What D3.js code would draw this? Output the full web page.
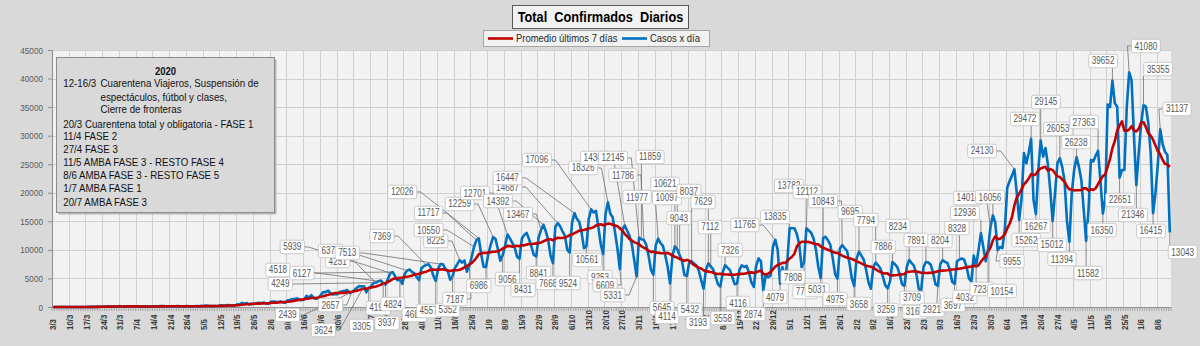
<!DOCTYPE html>
<html><head><meta charset="utf-8">
<script src="https://cdn.jsdelivr.net/npm/d3@7"></script>
<style>
html,body{margin:0;padding:0;background:#d9d9d9;}
svg{display:block;}
</style></head><body>
<svg id="chart" width="1200" height="346"></svg>
<script>
// ---------- DATA ----------
const firstDay = "2020-03-03";
// daily confirmed cases, 3/3/2020 - 31/12/2020 (rows = weeks Tue..Mon)
const cases2020 = [
 1,0,0,0,6,1,2,
 5,2,2,3,11,11,9,
 14,18,29,30,27,67,36,
 86,87,101,55,95,75,101,
 146,88,132,93,98,61,133,
 100,115,87,60,81,86,83,
 143,104,124,153,162,114,102,
 136,144,113,173,111,124,111,
 158,120,104,143,165,112,200,
 170,240,163,145,168,173,128,
 316,261,286,345,258,307,244,
 474,439,718,535,704,436,552,
 535,654,755,648,795,616,564,
 904,949,929,840,983,826,756,
 1141,1226,1386,1391,1531,1282,1208,
 1374,1958,1634,2060,1581,1419,1593,
 2146,2635,2606,2886,2401,2189,2262,
 2262,2667,2744,2845,2979,2439,2657,
 2979,3376,3663,3576,3624,2590,3305,
 3645,4249,4251,4518,4638,4190,3937,
 4890,5939,6127,5344,4687,4824,4033,
 5782,6377,6571,6134,5929,5241,4686,
 6792,7147,7369,7482,6879,5465,4557,
 6663,7513,7498,6693,6365,4783,5352,
 6840,7498,8225,7767,8159,6186,7187,
 8713,10550,11717,12026,9230,7058,6986,
 9309,10933,12259,11905,10104,8100,9056,
 10776,12701,12027,11245,10465,8789,8431,
 11945,12625,12969,11905,10591,9108,8841,
 12160,13467,14392,13300,11807,9000,7668,
 14001,14687,14128,13254,12500,10000,9524,
 14740,16447,15454,14901,12982,10300,10561,
 15454,17096,16546,16841,14000,11000,9253,
 16240,18326,16325,15718,13000,10200,6609,
 13500,14308,13400,12500,11000,8200,5331,
 12145,11859,11786,10895,9000,6500,5645,
 10800,11977,11200,10700,9000,7000,4114,
 9000,10621,10097,9043,8000,5600,5432,
 7800,8037,7600,7300,6400,4700,3193,
 6500,7629,7112,6600,5400,4000,3558,
 6000,7326,6900,6500,5300,4000,4116,
 6500,7300,7000,7200,6000,4300,3500,
 7200,8500,8000,2874,5600,5200,5500,
 10500,11765,10000
];
// daily confirmed cases, 1/1/2021 - 13/6/2021
const cases2021 = [
 4079,7000,5000,7808,
 13835,13790,13800,12800,11000,7000,7774,
 13782,13400,13000,12000,10000,7000,5031,
 12112,12300,11700,10900,8600,5800,4975,
 10200,10843,10300,9800,7800,5000,3658,
 8500,9695,9000,8300,6500,4300,3200,
 7000,7794,7300,6700,5300,3800,3259,
 4500,7886,7500,7000,5800,4000,3709,
 7000,8234,7700,7200,5800,3168,2921,
 7000,7891,7800,7400,6000,4000,3697,
 7500,8204,7900,7700,6500,4400,4032,
 8000,8328,8500,8300,7000,5000,4500,
 9000,7234,10000,12936,10500,8000,10154,
 14014,16056,14800,9955,10500,10300,13600,
 20870,22039,23000,24130,20000,15262,19000,
 26960,25157,27001,29472,18740,16267,24000,
 29145,26320,27840,25000,20500,15012,20000,
 25200,26053,24500,22000,15000,11394,20000,
 24000,26238,24500,22240,17000,11582,17000,
 25740,25500,26500,27363,22000,16350,19000,
 35468,35000,39652,35670,35080,22651,24000,
 24000,35000,41080,39740,30000,21346,27000,
 32000,35355,35080,32220,27000,16415,20000,
 25000,31137,28500,27190,26620,13043
];
const yTicks = [0,5000,10000,15000,20000,25000,30000,35000,40000,45000];
const seriesNames = ["Promedio últimos 7 días","Casos x día"];
const chartTitle = "Total  Confirmados  Diarios";
const noteTitle = "2020";
const noteLines = [
 ["12-16/3","Cuarentena Viajeros, Suspensión de"],
 ["","espectáculos, fútbol y clases,"],
 ["","Cierre de fronteras"],
 ["20/3 Cuarentena total y obligatoria - FASE 1",""],
 ["11/4 FASE 2",""],
 ["27/4 FASE 3",""],
 ["11/5 AMBA FASE 3 - RESTO FASE 4",""],
 ["8/6 AMBA FASE 3 - RESTO FASE 5",""],
 ["1/7 AMBA FASE 1",""],
 ["20/7 AMBA FASE 3",""]
];
// data labels: [day index of labelled point, label centre (day), label centre (value)]
const callouts = [
 [136,94,6480],[134,95,4030],[141,100,10510],[142,104,5950],[148,116,9810],[135,119,8050],[162,123,9460],
 [125,116,350],[124,98,-1400],[130,113,-4030],[132,129,-3330],[138,136,-175],[139,139.6,-2800],[145,142,525],
 [156,137.5,12430],[178,146,20140],[177,157,16460],[176,157,13480],[170,160,11560],[153,151,-1400],[160,157,-700],
 [167,165,-525],[174,168,1400],[181,178,3680],[184,170,18040],[190,176.4,19960],[188,190,4900],[195,196.5,2980],
 [205,186,18560],[211,190,21010],[218,190,22590],[204,194.4,16280],[202,203,5950],[209,207,4200],[216,215.3,4200],
 [225,202.3,25740],[232,221.6,24340],[223,223.3,8230],[230,228.7,5250],[237,230.8,3850],[244,234.1,2100],
 [239,226.6,26090],[245,234.1,26090],[246,249.6,26265],[247,238.3,23110],[253,244.2,19260],[260,255.9,21540],
 [261,256.7,19090],[267,265.9,20310],[262,261.7,15580],[274,271.8,18390],[275,274.7,14010],[281,283.1,9980],
 [251,254.6,-175],[258,256.7,-1750],[265,266.3,-525],[272,269.7,-2800],[279,280.1,-1930],[286,286.4,700],
 [297,292.7,-1230],[304,301.9,1750],[307,309.4,5250],[302,289.3,14360],[308,301.9,15760],[315,307.7,21190],
 [322,315.3,20140],[330,322,18560],[337,333.3,16635],[344,339.9,15230],[351,347.1,10510],[358,353.3,14180],
 [365,360.9,11730],[372,370.9,11560],[379,378,13830],[388,381.3,16460],[392,382.6,19090],[393,391.8,19260],
 [402,388.5,27320],[314,314.4,2630],[321,319.5,2980],[328,327,1400],[335,337,525],[349,348.3,-525],
 [356,359.2,1576],[362,360.4,-875],[363,367.5,-525],[370,376.3,350],[377,381.3,1750],[386,388.5,3150],
 [391,396.8,2800],[395,401,8050],[404,406.9,11730],[411,411,14180],[418,417.7,10860],[425,421.9,8400],
 [432,432.8,5950],[439,438.6,13480],[446,446.2,18740],[453,451.6,16110],[460,459.1,13310],[467,472.4,9630],
 [409,406.4,32920],[413,415.2,35900],[421,420.2,31170],[437,431.1,32390],[428,427.8,28890],[443,439.1,43075],
 [450,457,45700],[456,462.1,41670],[463,470,34670]
];

// ---------- BUILD ----------
const cases = cases2020.concat(cases2021);
const N = cases.length;
const parse = d3.timeParse("%Y-%m-%d");
const day0 = parse(firstDay);
const dates = d3.range(N).map(i => d3.timeDay.offset(day0, i));
const avg7 = cases.map((v, i) => d3.mean(cases.slice(Math.max(0, i - 6), i + 1)));

const P = {l:52, r:1171, t:50, b:307};
const x = d3.scaleLinear().domain([-0.5, N - 0.5]).range([P.l, P.r]);
const y = d3.scaleLinear().domain([0, 45000]).range([P.b, P.t]);
const fmt = d3.timeFormat("%-d/%-m");
const FONT = "'Liberation Sans',Arial,sans-serif";

// narrow the glyphs horizontally (Calibri-like proportions)
function condense(sel, f) {
  sel.each(function(){
    const w = this.getComputedTextLength();
    if (w > 0) d3.select(this).attr("textLength", (w*f).toFixed(2)).attr("lengthAdjust","spacingAndGlyphs");
  });
  return sel;
}

const svg = d3.select("#chart");
svg.append("rect").attr("width",1200).attr("height",346).attr("fill","#d9d9d9");
svg.append("rect").attr("x",P.l).attr("y",P.t).attr("width",P.r-P.l).attr("height",P.b-P.t).attr("fill","#f2f2f2");

// gridlines
const weekIdx = d3.range(0, N, 7);
svg.append("g").selectAll("line").data(yTicks.slice(1)).join("line")
  .attr("x1",P.l).attr("x2",P.r).attr("y1",d=>Math.round(y(d))+0.5).attr("y2",d=>Math.round(y(d))+0.5)
  .attr("stroke","#cfcfcf").attr("stroke-width",1);
svg.append("g").selectAll("line").data(weekIdx.slice(1)).join("line")
  .attr("x1",d=>Math.round(x(d-0.5))+0.5).attr("x2",d=>Math.round(x(d-0.5))+0.5).attr("y1",P.t).attr("y2",P.b)
  .attr("stroke","#cfcfcf").attr("stroke-width",1);

// y axis
const yAxis = d3.axisLeft(y).tickValues(yTicks).tickSize(4).tickPadding(5).tickFormat(d3.format("d"));
const gy = svg.append("g").attr("transform",`translate(${P.l},0)`).call(yAxis);
gy.select(".domain").attr("stroke","#8c8c8c");
gy.selectAll(".tick line").attr("stroke","#8c8c8c");
condense(gy.selectAll(".tick text").attr("fill","#595959").style("font-family",FONT).style("font-size","9.5px"), 0.86);

// x axis: a tick between every day, label every 7 days
const gx = svg.append("g");
gx.append("line").attr("x1",P.l).attr("x2",P.r).attr("y1",P.b+0.5).attr("y2",P.b+0.5).attr("stroke","#8c8c8c");
gx.selectAll("line.t").data(d3.range(N+1)).join("line").attr("class","t")
  .attr("x1",d=>x(d-0.5)).attr("x2",d=>x(d-0.5)).attr("y1",P.b).attr("y2",P.b+4)
  .attr("stroke","#9a9a9a").attr("stroke-width",0.8);
condense(gx.selectAll("text").data(weekIdx).join("text")
  .attr("transform",d=>`translate(${x(d)},330) rotate(-90)`)
  .attr("dy","0.35em").attr("text-anchor","start")
  .attr("fill","#3a3a3a").style("font-family",FONT).style("font-size","9px").style("font-weight","bold")
  .text(d=>fmt(dates[d])), 0.88);

// series
const line = d3.line().x((d,i)=>x(i)).y(d=>y(d));
svg.append("path").datum(cases).attr("d",line).attr("fill","none")
  .attr("stroke","#0070c0").attr("stroke-width",2.6).attr("stroke-linejoin","round");
svg.append("path").datum(avg7).attr("d",line).attr("fill","none")
  .attr("stroke","#c00000").attr("stroke-width",2.6).attr("stroke-linejoin","round");

// note box
const note = svg.append("g");
note.append("rect").attr("x",58.5).attr("y",59.5).attr("width",218).attr("height",155).attr("fill","#b8b8b8");
note.append("rect").attr("x",56.5).attr("y",57.5).attr("width",218).attr("height",155)
  .attr("fill","#d9d9d9").attr("stroke","#8c8c8c");
condense(note.append("text").attr("x",165.5).attr("y",70.7).attr("dy","0.35em").attr("text-anchor","middle")
  .style("font-family",FONT).style("font-size","11px").style("font-weight","bold").attr("fill","#111").text(noteTitle), 0.86);
const lineY = [82.7,96.5,108.5,124,135.7,149,162.3,175,188.3,201.7];
noteLines.forEach((l,k)=>{
  if(l[0]) condense(note.append("text").attr("x",63.3).attr("y",lineY[k]).attr("dy","0.35em")
    .style("font-family",FONT).style("font-size","11.5px").attr("fill","#111").text(l[0]), 0.845);
  if(l[1]) condense(note.append("text").attr("x",100.5).attr("y",lineY[k]).attr("dy","0.35em")
    .style("font-family",FONT).style("font-size","11.5px").attr("fill","#111").text(l[1]), 0.845);
});

// callouts (leader lines + boxes), drawn in series order
const cs = callouts.slice().sort((a,b)=>a[0]-b[0]);
const gl = svg.append("g");
const gb = svg.append("g");
cs.forEach(c=>{
  const [d, ld, lv] = c;
  const px = x(d), py = y(cases[d]);
  const bx = x(ld), by = y(lv);
  const t = gb.append("text").attr("x",bx).attr("y",by).attr("dy","0.35em").attr("text-anchor","middle")
    .style("font-family",FONT).style("font-size","10px").attr("fill","#595959").text(cases[d]);
  condense(t, 0.82);
  const tw = t.node().getComputedTextLength();
  const bw = tw + 6, bh = 13.5;
  gb.insert("rect", () => t.node()).attr("x",bx-bw/2).attr("y",by-bh/2).attr("width",bw).attr("height",bh)
    .attr("rx",2).attr("fill","#ffffff").attr("stroke","#bfbfbf").attr("stroke-width",0.8);
  const L = bx-bw/2, R = bx+bw/2, T = by-bh/2, B = by+bh/2;
  let p;
  if (px > R + 2) p = `M${R},${by}H${R+4}L${px},${py}`;
  else if (px < L - 2) p = `M${L},${by}H${L-4}L${px},${py}`;
  else if (py < T) p = `M${px},${T}L${px},${py}`;
  else p = `M${px},${B}L${px},${py}`;
  gl.append("path").attr("d",p).attr("fill","none").attr("stroke","#6e6e6e").attr("stroke-width",0.8);
});

// title
const tg = svg.append("g");
tg.append("rect").attr("x",512.5).attr("y",5.5).attr("width",176).attr("height",23)
  .attr("fill","#f2f2f2").attr("stroke","#595959");
condense(tg.append("text").attr("x",600.5).attr("y",17).attr("dy","0.35em").attr("text-anchor","middle")
  .style("font-family",FONT).style("font-size","15px").style("font-weight","bold").attr("fill","#000")
  .attr("xml:space","preserve").style("white-space","pre").text(chartTitle), 0.85);

// legend
const lg = svg.append("g");
lg.append("rect").attr("x",483.5).attr("y",30.5).attr("width",226).attr("height",16)
  .attr("fill","#f2f2f2").attr("stroke","#a6a6a6");
const legendItems = [{name:seriesNames[0], color:"#c00000", x:488},{name:seriesNames[1], color:"#0070c0", x:622}];
legendItems.forEach(it=>{
  lg.append("line").attr("x1",it.x).attr("x2",it.x+25).attr("y1",38.5).attr("y2",38.5)
    .attr("stroke",it.color).attr("stroke-width",2.6);
  condense(lg.append("text").attr("x",it.x+28).attr("y",38.5).attr("dy","0.35em")
    .style("font-family",FONT).style("font-size","10.5px").attr("fill","#262626").text(it.name), 0.9);
});
</script>
</body></html>
